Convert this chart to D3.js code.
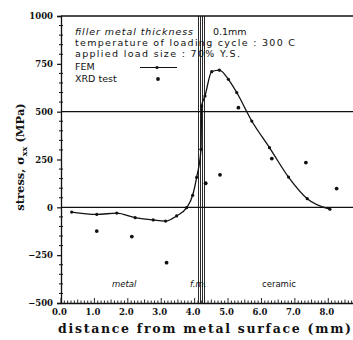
<!DOCTYPE html>
<html><head><meta charset="utf-8">
<script src="https://cdn.jsdelivr.net/npm/d3@7"></script>
<style>body{margin:0;background:#fff}svg{display:block}</style>
</head><body>
<svg id="c" width="353" height="340"></svg>
<script>
const femX = [0.32,1.07,1.67,2.22,2.76,3.13,3.46,3.76,3.94,4.06,4.19,4.21,4.31,4.51,4.74,5.01,5.26,5.71,6.24,6.81,7.37,8.05];
const femY = [-25,-37,-30,-54,-66,-72,-45,-2,63,157,303,530,582,709,717,669,600,451,312,158,45,-10];
const xrdX = [1.07,2.12,3.16,4.33,4.76,5.31,6.31,7.33,8.25];
const xrdY = [-124,-153,-289,126,170,521,255,234,98];
const yTicks = [-500,-250,0,250,500,750,1000];
const xTicks = [0,1,2,3,4,5,6,7,8];
const fmBounds = [4.13,4.25];
const legendLines = ["filler metal thickness","temperature of loading cycle : 300 C","applied load size : 70% Y.S."];

const svg = d3.select("#c");
const x = d3.scaleLinear().domain([0,8.8]).range([61,355]);
const y = d3.scaleLinear().domain([-500,1000]).range([303,16]);
const ink = "#111";

// grid / frame lines
[1000,500,0].forEach(v=>{
  svg.append("line").attr("x1",x(0)).attr("x2",353).attr("y1",y(v)).attr("y2",y(v))
    .attr("stroke",ink).attr("stroke-width",1.3);
});

// y axis
const yAxis = d3.axisLeft(y).tickValues(yTicks).tickSize(4).tickFormat(d3.format("d"));
const gy = svg.append("g").attr("transform",`translate(${x(0)},0)`).call(yAxis);
gy.select(".domain").attr("stroke",ink).attr("stroke-width",1.3);
gy.selectAll(".tick line").attr("stroke",ink).attr("stroke-width",1.2);
gy.selectAll("text").attr("font-family","DejaVu Serif").attr("font-weight","bold").attr("font-size",8.5).attr("fill",ink).attr("dx",-1);
// y minor ticks
const yMinor = d3.range(-500,1001,50).filter(v=>v%250!==0);
svg.append("g").selectAll("line").data(yMinor).join("line")
  .attr("x1",x(0)-2).attr("x2",x(0)+2).attr("y1",d=>y(d)).attr("y2",d=>y(d))
  .attr("stroke",ink).attr("stroke-width",1);

// x axis
const xAxis = d3.axisBottom(x).tickValues(xTicks).tickSize(0).tickPadding(6).tickFormat(d3.format(".1f"));
const gx = svg.append("g").attr("transform",`translate(0,${y(-500)})`).call(xAxis);
gx.select(".domain").attr("stroke",ink).attr("stroke-width",1.3);
gx.selectAll("text").attr("font-family","DejaVu Serif").attr("font-weight","bold").attr("font-size",8.5).attr("fill",ink).attr("dx",-2);
const xMinor = d3.range(0,88).map(i=>i/10);
svg.append("g").selectAll("line").data(xMinor).join("line")
  .attr("x1",d=>x(d)).attr("x2",d=>x(d)).attr("y1",y(-500)).attr("y2",d=>y(-500)-(Math.round(d*10)%10===0?5:(Math.round(d*10)%5===0?3.5:2.5)))
  .attr("stroke",ink).attr("stroke-width",0.9);

// filler metal double lines
fmBounds.forEach(b=>{
  [-1,1].forEach(o=>{
    const px = Math.round(x(b)+o)+0.5;
    svg.append("line").attr("x1",px).attr("x2",px).attr("y1",y(1000)).attr("y2",y(-500))
      .attr("stroke",ink).attr("stroke-width",0.9);
  });
});

// FEM line
const line = d3.line().x((d,i)=>x(femX[i])).y((d,i)=>y(femY[i])).curve(d3.curveMonotoneX);
svg.append("path").datum(femX).attr("d",line).attr("fill","none").attr("stroke",ink).attr("stroke-width",1.3);
svg.append("g").selectAll("circle").data(femX).join("circle")
  .attr("cx",(d,i)=>x(femX[i])).attr("cy",(d,i)=>y(femY[i])).attr("r",1.6).attr("fill",ink);
// XRD points
svg.append("g").selectAll("circle").data(xrdX).join("circle")
  .attr("cx",(d,i)=>x(xrdX[i])).attr("cy",(d,i)=>y(xrdY[i])).attr("r",1.9).attr("fill",ink);

// legend text
const lf = {"font-family":"DejaVu Sans","font-size":9.5};
const lfi = {"font-family":"DejaVu Sans","font-style":"italic","font-size":9.5};
function txt(s,px,py,attrs){const t=svg.append("text").attr("x",px).attr("y",py).text(s).attr("fill",ink);Object.entries(attrs).forEach(([k,v])=>t.attr(k,v));return t;}
txt(legendLines[0],75,35,lfi).attr("textLength",118);
txt("0.1mm",213,35,lf);
txt(legendLines[1],75,45.5,lf).attr("textLength",220);
txt(legendLines[2],75,56.5,lf).attr("textLength",165);
txt("FEM",75,70,lf);
txt("XRD test",75,81.5,lf);
svg.append("line").attr("x1",140).attr("x2",177).attr("y1",67.5).attr("y2",67.5).attr("stroke",ink).attr("stroke-width",1.2);
svg.append("circle").attr("cx",157).attr("cy",67.5).attr("r",1.6).attr("fill",ink);
svg.append("circle").attr("cx",158).attr("cy",79).attr("r",1.9).attr("fill",ink);

// region labels
txt("metal",112,287,lfi).attr("font-size",8.5);
txt("f.m.",190,287,lfi).attr("font-size",8.5);
txt("ceramic",262,287,lf).attr("font-size",8.5);

// axis titles
svg.append("text").attr("x",58).attr("y",333).text("distance from metal surface (mm)")
  .attr("font-family","DejaVu Serif").attr("font-weight","bold").attr("font-size",12.5).attr("fill",ink).attr("textLength",293);
const yt = svg.append("text").attr("transform","translate(24,157) rotate(-90)").attr("text-anchor","middle")
  .attr("font-family","DejaVu Serif").attr("font-weight","bold").attr("font-size",11.5).attr("fill",ink);
yt.append("tspan").text("stress, σ");
yt.append("tspan").text("xx").attr("font-size",8).attr("dy",3);
yt.append("tspan").text(" (MPa)").attr("dy",-3);
</script>
</body></html>
